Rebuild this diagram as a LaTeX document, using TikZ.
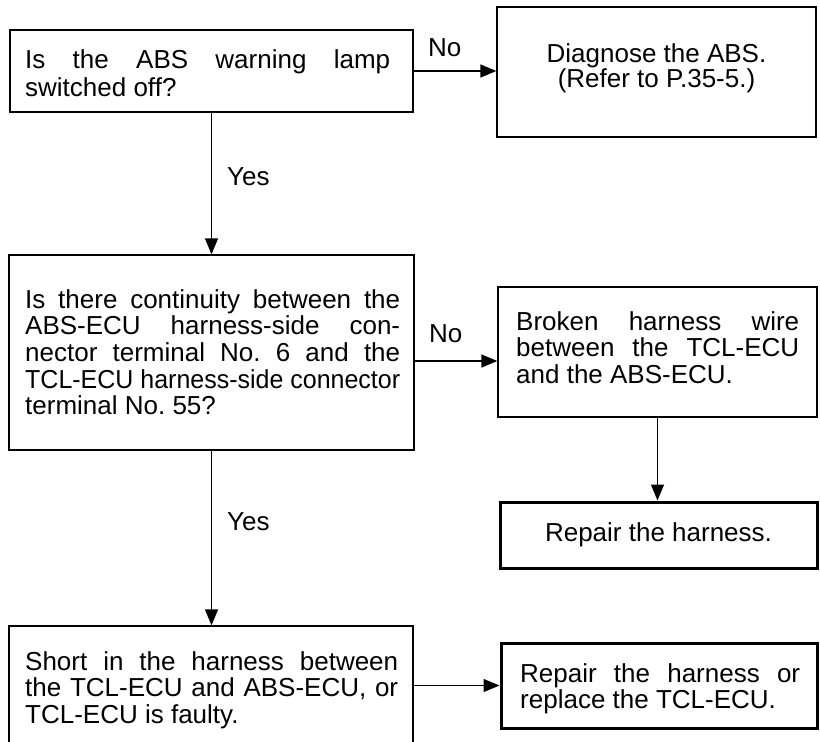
\documentclass[tikz,border=0pt]{standalone}
\usepackage{fontspec}
\usepackage{graphicx}
\setmainfont{Liberation Sans}
\usetikzlibrary{arrows.meta}

\tikzset{
  box/.style={draw, rectangle, line width=1.3pt, inner sep=0pt},
  heavybox/.style={box, line width=3pt},
  txt/.style={inner sep=0pt, anchor=base west},
  ctxt/.style={inner sep=0pt, anchor=base},
  lbl/.style={inner sep=0pt, anchor=base west, font=\fontsize{26}{26}\selectfont},
  arr/.style={line width=1.3pt, -{Triangle[length=16pt,width=13pt]}},
}
% a justified line of fixed width
\newcommand{\jline}[2]{\makebox[#1][s]{#2}}
% a line squeezed to a fixed width
\newcommand{\tightline}[2]{\resizebox{#1}{\height}{#2}}

\begin{document}
\frenchspacing
\begin{tikzpicture}[x=1pt,y=-1pt]
  \useasboundingbox (0,0) rectangle (820,742);
  \clip (0,0) rectangle (820,742);

  % boxes
  \node[box, minimum width=403pt, minimum height=82pt]  (q1) at (211.5,71)   {};
  \node[box, minimum width=319pt, minimum height=130pt] (r1) at (656.5,72)   {};
  \node[box, minimum width=405pt, minimum height=195pt] (q2) at (211.5,352.5) {};
  \node[box, minimum width=319pt, minimum height=130pt] (r2) at (657.5,352)  {};
  \node[heavybox, minimum width=317pt, minimum height=66pt] (r3) at (658.5,535) {};
  \node[box, minimum width=404pt, minimum height=174pt] (r4) at (211,713)    {};
  \node[heavybox, minimum width=316pt, minimum height=85pt] (r5) at (659,685.5) {};

  % box texts
  \node[txt, font=\fontsize{26}{28.5}\selectfont] (q1t) at (25,68)
    {\parbox[t]{365pt}{\jline{365pt}{Is the ABS warning lamp}\\switched off?}};
  \node[ctxt, font=\fontsize{26}{23}\selectfont] (r1t) at (656.5,62)
    {\parbox[t]{300pt}{\centering Diagnose the ABS.\\(Refer to P.35-5.)}};
  \node[txt, font=\fontsize{26}{26.7}\selectfont] (q2t) at (25,308)
    {\parbox[t]{375pt}{%
      \jline{375pt}{Is there continuity between the}\\
      \jline{375pt}{ABS-ECU harness-side con-}\\
      \jline{375pt}{nector terminal No. 6 and the}\\
      \tightline{375pt}{TCL-ECU harness-side connector}\\
      terminal No. 55?}};
  \node[txt, font=\fontsize{26}{26.7}\selectfont] (r2t) at (516,330)
    {\parbox[t]{283pt}{%
      \jline{283pt}{Broken harness wire}\\
      \jline{283pt}{between the TCL-ECU}\\
      and the ABS-ECU.}};
  \node[ctxt, font=\fontsize{26}{26}\selectfont] (r3t) at (658.5,541)
    {Repair the harness.};
  \node[txt, font=\fontsize{26}{26.7}\selectfont] (r4t) at (25,670)
    {\parbox[t]{373pt}{%
      \jline{373pt}{Short in the harness between}\\
      \jline{373pt}{the TCL-ECU and ABS-ECU, or}\\
      TCL-ECU is faulty.}};
  \node[txt, font=\fontsize{26}{26}\selectfont] (r5t) at (520,682)
    {\parbox[t]{280pt}{%
      \jline{280pt}{Repair the harness or}\\
      replace the TCL-ECU.}};

  % connectors
  \coordinate (no2) at (0,361);
  \draw[arr] (q1.east) -- (q1.east -| r1.west);
  \draw[arr] (q1.south) -- (q1.south |- q2.north);
  \draw[arr] (q2.east |- no2) -- (r2.west |- no2);
  \draw[arr] (r2.south) -- (r2.south |- r3.north);
  \draw[arr] (q2.south) -- (q2.south |- r4.north);
  \draw[arr] (r4.east |- r5.west) -- (r5.west);

  % branch labels
  \node[lbl] (no-a)  at (428,56)  {No};
  \node[lbl] (no-b)  at (429,342) {No};
  \node[lbl] (yes-a) at (227,185) {Yes};
  \node[lbl] (yes-b) at (227,530) {Yes};
\end{tikzpicture}
\end{document}
